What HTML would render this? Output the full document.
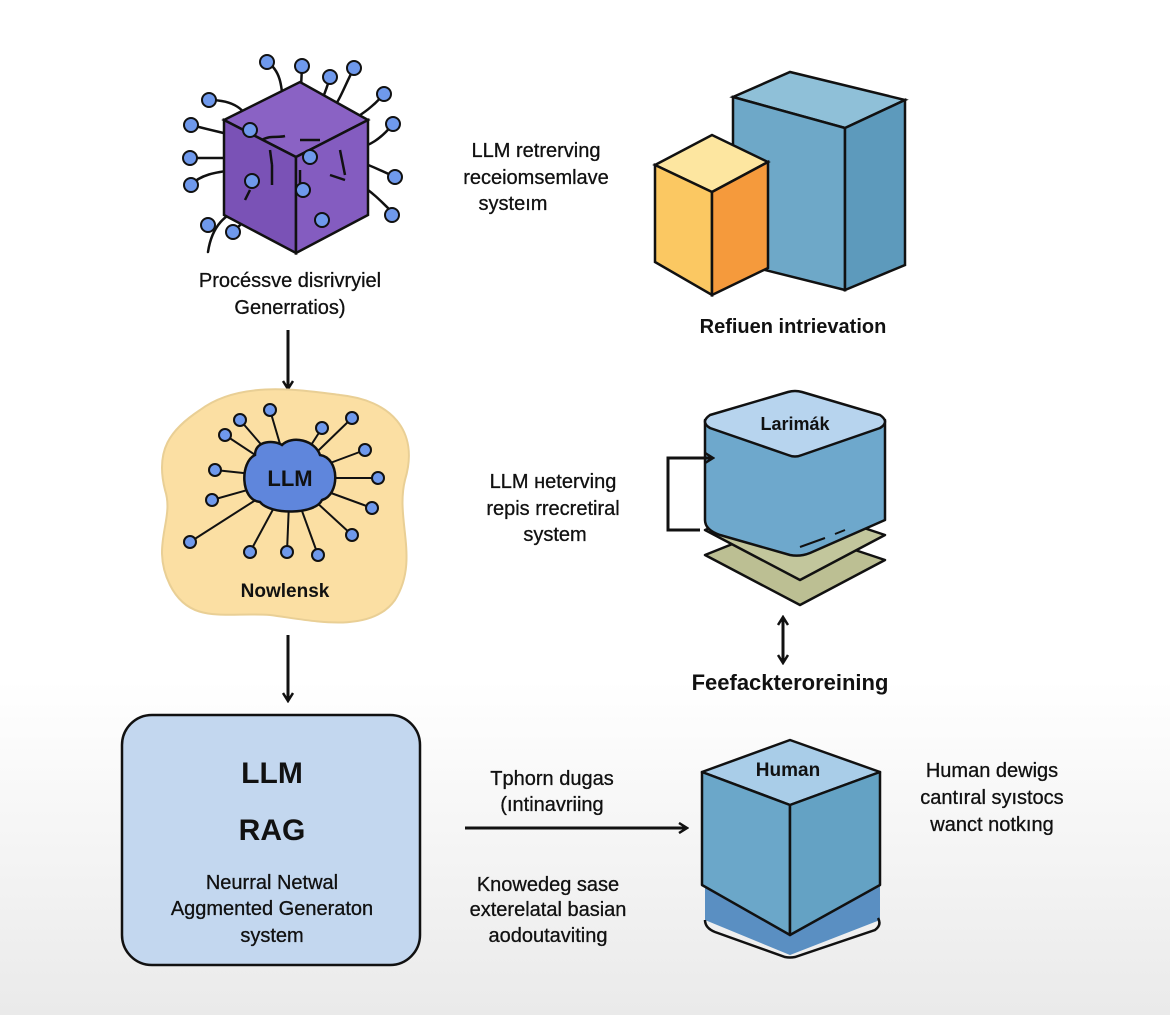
<!DOCTYPE html>
<html><head><meta charset="utf-8"><style>
html,body{margin:0;padding:0}
body{width:1170px;height:1015px;overflow:hidden;background:linear-gradient(#fff 0,#fff 680px,#eaeaea 1015px);font-family:"Liberation Sans",sans-serif}
svg{position:absolute;left:0;top:0}
text{font-family:"Liberation Sans",sans-serif;fill:#111}
.t{font-size:20px;stroke:#111;stroke-width:0.3px}
</style></head><body>
<svg width="1170" height="1015" viewBox="0 0 1170 1015">
<defs>
<marker id="ah" markerWidth="12" markerHeight="12" refX="9" refY="6" orient="auto-start-reverse" markerUnits="userSpaceOnUse">
<path d="M2,1 L10,6 L2,11" fill="none" stroke="#111" stroke-width="2.5"/></marker>
</defs>
<g stroke="#111" stroke-width="2.5" fill="none" stroke-linecap="round">
<path d="M267,62 C280,70 282,85 283,105"/><path d="M302,66 L300,110"/><path d="M330,77 C325,95 318,110 310,125"/>
<path d="M354,68 C345,85 340,100 332,110"/><path d="M384,94 C370,110 360,115 345,125"/><path d="M393,124 C380,140 370,145 355,150"/>
<path d="M209,100 C235,100 245,110 252,125"/><path d="M191,125 C210,130 220,132 232,135"/><path d="M190,158 L230,158"/>
<path d="M191,185 C200,175 215,172 235,170"/><path d="M208,252 C212,225 225,215 245,205"/><path d="M233,232 C240,225 250,215 258,210"/>
<path d="M395,177 C380,170 370,165 355,160"/><path d="M395,215 C380,200 370,190 360,185"/>
<path d="M322,220 C315,205 312,195 310,180"/><path d="M252,180 L262,165"/>
</g>
<polygon points="224,120 300,82 368,120 296,157" fill="#8a62c4" stroke="#111" stroke-width="2.5"/>
<polygon points="224,120 296,157 296,253 224,215" fill="#7a52b6" stroke="#111" stroke-width="2.5"/>
<polygon points="296,157 368,120 368,215 296,253" fill="#845cc0" stroke="#111" stroke-width="2.5"/>
<g stroke="#111" stroke-width="2.5" fill="none">
<path d="M262,140 C270,135 278,138 285,136"/><path d="M300,140 L320,140"/><path d="M270,150 L272,165"/><path d="M272,165 L272,185"/>
<path d="M340,150 L345,175"/><path d="M330,175 L345,180"/><path d="M250,190 L245,200"/><path d="M300,170 L300,190"/>
</g>
<g fill="#6f99ec" stroke="#111" stroke-width="2">
<circle cx="267" cy="62" r="7"/><circle cx="302" cy="66" r="7"/><circle cx="330" cy="77" r="7"/><circle cx="354" cy="68" r="7"/>
<circle cx="384" cy="94" r="7"/><circle cx="393" cy="124" r="7"/><circle cx="209" cy="100" r="7"/><circle cx="191" cy="125" r="7"/>
<circle cx="190" cy="158" r="7"/><circle cx="191" cy="185" r="7"/><circle cx="208" cy="225" r="7"/><circle cx="233" cy="232" r="7"/>
<circle cx="395" cy="177" r="7"/><circle cx="392" cy="215" r="7"/><circle cx="322" cy="220" r="7"/><circle cx="250" cy="130" r="7"/>
<circle cx="252" cy="181" r="7"/><circle cx="310" cy="157" r="7"/><circle cx="303" cy="190" r="7"/>
</g>
<text class="t" x="290" y="287" text-anchor="middle">Procéssve disrivryiel</text>
<text class="t" x="290" y="314" text-anchor="middle">Generratios)</text>
<line x1="288" y1="330" x2="288" y2="388" stroke="#111" stroke-width="3" marker-end="url(#ah)"/>

<polygon points="733,97 790,72 905,100 845,128" fill="#8fc0d8" stroke="#111" stroke-width="2.5"/>
<polygon points="733,97 845,128 845,290 733,262" fill="#6ea8c8" stroke="#111" stroke-width="2.5"/>
<polygon points="845,128 905,100 905,265 845,290" fill="#5d9abc" stroke="#111" stroke-width="2.5"/>
<polygon points="655,165 712,135 768,162 712,192" fill="#fde6a0" stroke="#111" stroke-width="2.5"/>
<polygon points="655,165 712,192 712,295 655,262" fill="#fbc862" stroke="#111" stroke-width="2.5"/>
<polygon points="712,192 768,162 768,268 712,295" fill="#f59a3c" stroke="#111" stroke-width="2.5"/>
<text class="t" x="536" y="157" text-anchor="middle">LLM retrerving</text>
<text class="t" x="536" y="184" text-anchor="middle">receiomsemlave</text>
<text class="t" x="513" y="210" text-anchor="middle">systeım</text>
<text x="793" y="333" font-size="20" font-weight="bold" text-anchor="middle">Refiuen intrievation</text>

<path d="M200,410 C240,380 300,390 340,395 C390,400 420,430 405,480 C395,520 420,560 395,600 C370,635 310,620 270,615 C225,612 190,625 170,585 C150,545 175,520 165,490 C155,450 170,430 200,410 Z" fill="#fbdfa3" stroke="#e9cf95" stroke-width="2"/>
<g stroke="#111" stroke-width="2" fill="none">
<path d="M290,478 L240,420"/><path d="M290,478 L270,410"/><path d="M290,478 L322,428"/><path d="M290,478 L352,418"/><path d="M290,478 L365,450"/>
<path d="M290,478 L378,478"/><path d="M290,478 L372,508"/><path d="M290,478 L352,535"/><path d="M290,478 L318,555"/><path d="M290,478 L287,552"/>
<path d="M290,478 L250,552"/><path d="M290,478 L190,542"/><path d="M290,478 L212,500"/><path d="M290,478 L215,470"/><path d="M290,478 L225,435"/>
</g>
<g fill="#6f99ec" stroke="#111" stroke-width="2">
<circle cx="240" cy="420" r="6"/><circle cx="270" cy="410" r="6"/><circle cx="322" cy="428" r="6"/><circle cx="352" cy="418" r="6"/><circle cx="365" cy="450" r="6"/>
<circle cx="378" cy="478" r="6"/><circle cx="372" cy="508" r="6"/><circle cx="352" cy="535" r="6"/><circle cx="318" cy="555" r="6"/><circle cx="287" cy="552" r="6"/>
<circle cx="250" cy="552" r="6"/><circle cx="190" cy="542" r="6"/><circle cx="212" cy="500" r="6"/><circle cx="215" cy="470" r="6"/><circle cx="225" cy="435" r="6"/>
</g>
<path d="M255,455 C255,440 275,440 282,445 C292,435 315,440 320,455 C340,458 340,495 322,500 C315,515 270,515 260,502 C240,500 240,462 255,455 Z" fill="#5f86dc" stroke="#111" stroke-width="2.5"/>
<text x="290" y="486" font-size="22" font-weight="bold" text-anchor="middle">LLM</text>
<text x="285" y="597" font-size="19" font-weight="bold" text-anchor="middle">Nowlensk</text>
<line x1="288" y1="635" x2="288" y2="700" stroke="#111" stroke-width="3" marker-end="url(#ah)"/>

<path d="M705,555 L780,525 L885,560 L800,605 Z" fill="#bcbf93" stroke="#111" stroke-width="2.5" stroke-linejoin="round"/>
<path d="M705,530 L780,500 L885,535 L800,580 Z" fill="#c2c69c" stroke="#111" stroke-width="2.5" stroke-linejoin="round"/>
<path d="M705,420 L705,520 Q705,530 720,535 L790,555 Q800,557 810,553 L885,520 L885,420 Z" fill="#6ea8cc" stroke="#111" stroke-width="2.5" stroke-linejoin="round"/>
<path d="M710,415 L788,392 Q795,390 802,392 L880,415 Q890,422 880,428 L802,455 Q795,458 788,455 L710,428 Q700,422 710,415 Z" fill="#b7d4ee" stroke="#111" stroke-width="2.5"/>
<path d="M800,547 L825,538 M835,534 L845,530" stroke="#111" stroke-width="2"/>
<text x="795" y="430" font-size="18" font-weight="bold" text-anchor="middle">Larimák</text>
<path d="M700,530 L668,530 L668,458 L712,458" fill="none" stroke="#111" stroke-width="3" marker-end="url(#ah)"/>
<line x1="783" y1="618" x2="783" y2="662" stroke="#111" stroke-width="3" marker-end="url(#ah)" marker-start="url(#ah)"/>
<text x="790" y="690" font-size="22" font-weight="bold" text-anchor="middle">Feefackteroreining</text>
<text class="t" x="553" y="488" text-anchor="middle">LLM нeterving</text>
<text class="t" x="553" y="515" text-anchor="middle">repis rrecretiral</text>
<text class="t" x="555" y="541" text-anchor="middle">system</text>

<rect x="122" y="715" width="298" height="250" rx="30" fill="#c3d7ef" stroke="#111" stroke-width="2.5"/>
<text x="272" y="783" font-size="30" font-weight="bold" text-anchor="middle">LLM</text>
<text x="272" y="840" font-size="30" font-weight="bold" text-anchor="middle">RAG</text>
<text class="t" x="272" y="889" text-anchor="middle">Neurral Netwal</text>
<text class="t" x="272" y="915" text-anchor="middle">Aggmented Generaton</text>
<text class="t" x="272" y="942" text-anchor="middle">system</text>

<line x1="465" y1="828" x2="686" y2="828" stroke="#111" stroke-width="3" marker-end="url(#ah)"/>
<text class="t" x="552" y="785" text-anchor="middle">Tphorn dugas</text>
<text class="t" x="552" y="811" text-anchor="middle">(ıntinavriing</text>
<text class="t" x="548" y="891" text-anchor="middle">Knowedeg sase</text>
<text class="t" x="548" y="916" text-anchor="middle">exterelatal basian</text>
<text class="t" x="548" y="942" text-anchor="middle">aodoutaviting</text>

<path d="M705,920 L790,955 L880,920 L880,880 L705,880 Z" fill="#5a8fc2" stroke="none"/>
<path d="M705,920 Q705,928 715,932 L785,957 Q790,958 795,957 L875,930 Q882,925 878,918" fill="none" stroke="#111" stroke-width="2.5"/>
<polygon points="702,772 790,740 880,772 790,805" fill="#a9cde8" stroke="#111" stroke-width="2.5" stroke-linejoin="round"/>
<polygon points="702,772 790,805 790,935 702,885" fill="#6ba7c9" stroke="#111" stroke-width="2.5" stroke-linejoin="round"/>
<polygon points="790,805 880,772 880,885 790,935" fill="#64a2c4" stroke="#111" stroke-width="2.5" stroke-linejoin="round"/>
<text x="788" y="776" font-size="19" font-weight="bold" text-anchor="middle">Human</text>
<text class="t" x="992" y="777" text-anchor="middle">Human dewigs</text>
<text class="t" x="992" y="804" text-anchor="middle">cantıral sуıstocs</text>
<text class="t" x="992" y="831" text-anchor="middle">wanct notkıng</text>
</svg>
</body></html>
